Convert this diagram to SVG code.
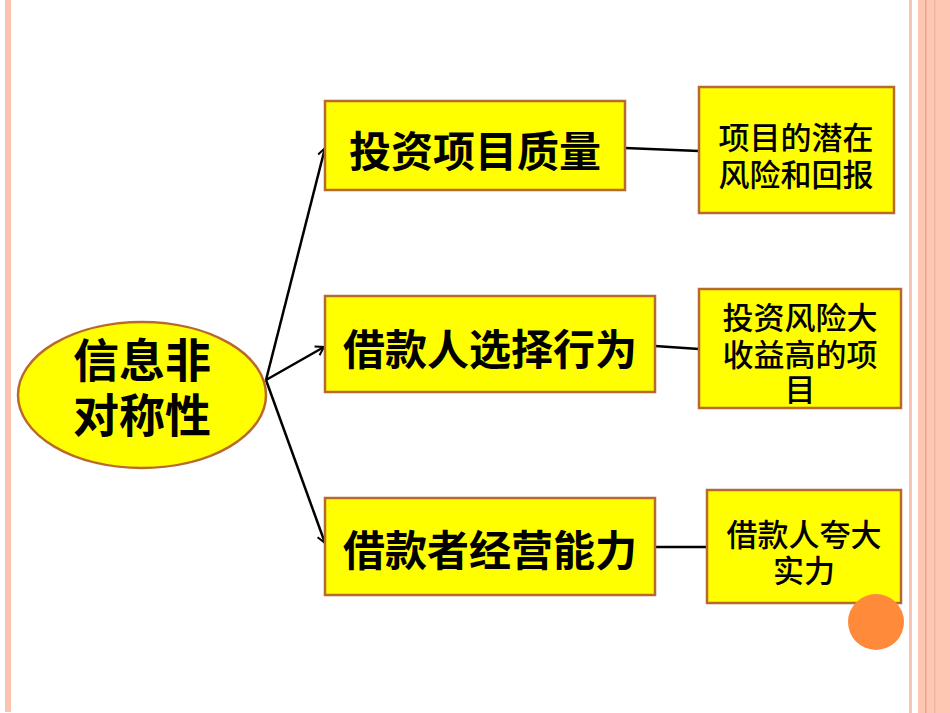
<svg xmlns="http://www.w3.org/2000/svg" width="950" height="713" viewBox="0 0 950 713">
<style>
.box{fill:#ffff00;stroke:#b86a2e;stroke-width:2.5}
.t{font-family:"Noto Sans CJK SC","Noto Sans",sans-serif;fill:#000;text-anchor:middle;dominant-baseline:central}
.big{font-size:42px;font-weight:bold}
.ell{font-size:46px;font-weight:bold}
.sm{font-size:31px;font-weight:500}
.c{stroke:#000;stroke-width:2.5;fill:none}
</style>
<defs>
<marker id="ar" markerWidth="12" markerHeight="12" refX="10" refY="6" orient="auto" markerUnits="userSpaceOnUse">
<path d="M2,1 L10,6 L2,11" fill="none" stroke="#000" stroke-width="2"/>
</marker>
</defs>
<rect width="950" height="713" fill="#fff"/>
<g id="frame">
<rect x="5" y="0" width="6" height="712" fill="#fbc4b0"/>
<rect x="909" y="0" width="3" height="713" fill="#fbc4b0"/>
<rect x="918" y="0" width="32" height="713" fill="#fdc7b3"/>
<rect x="925" y="0" width="1.5" height="713" fill="#eea484"/>
<rect x="934" y="0" width="1.5" height="713" fill="#f3b69c"/>
</g>
<g id="connectors">
<line class="c" x1="266" y1="380" x2="325" y2="148" marker-end="url(#ar)"/>
<line class="c" x1="266" y1="380" x2="324" y2="347" marker-end="url(#ar)"/>
<line class="c" x1="266" y1="380" x2="325" y2="543" marker-end="url(#ar)"/>
<line class="c" x1="625" y1="148" x2="699" y2="151"/>
<line class="c" x1="655" y1="346" x2="699" y2="349"/>
<line class="c" x1="655" y1="547" x2="707" y2="547"/>
</g>
<g id="n0">
<ellipse class="box" cx="142" cy="395" rx="124" ry="73"/>
<text class="t ell" x="142" y="357">信息非</text>
<text class="t ell" x="142" y="412">对称性</text>
</g>
<g id="n1">
<rect class="box" x="325" y="101" width="300" height="89"/>
<text class="t big" x="475" y="148">投资项目质量</text>
</g>
<g id="n2">
<rect class="box" x="325" y="296" width="330" height="96"/>
<text class="t big" x="490" y="346">借款人选择行为</text>
</g>
<g id="n3">
<rect class="box" x="325" y="498" width="330" height="97"/>
<text class="t big" x="490" y="547">借款者经营能力</text>
</g>
<g id="r1">
<rect class="box" x="699" y="87" width="195" height="126"/>
<text class="t sm" x="796" y="135">项目的潜在</text>
<text class="t sm" x="796" y="172">风险和回报</text>
</g>
<g id="r2">
<rect class="box" x="699" y="289" width="202" height="119"/>
<text class="t sm" x="800" y="315">投资风险大</text>
<text class="t sm" x="800" y="352">收益高的项</text>
<text class="t sm" x="800" y="387">目</text>
</g>
<g id="r3">
<rect class="box" x="707" y="490" width="194" height="113"/>
<text class="t sm" x="804" y="532">借款人夸大</text>
<text class="t sm" x="804" y="568">实力</text>
</g>
<circle cx="876" cy="622" r="28" fill="#fe8a3a"/>
</svg>
